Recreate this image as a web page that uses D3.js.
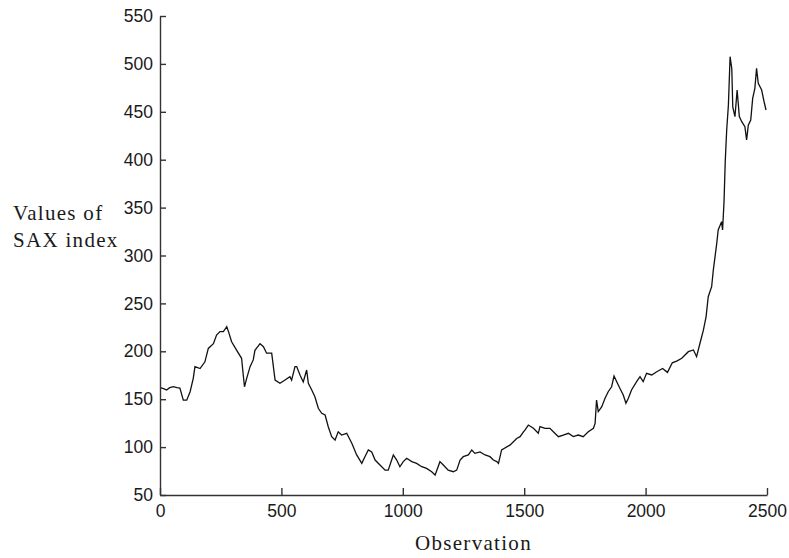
<!DOCTYPE html>
<html>
<head>
<meta charset="utf-8">
<script src="https://cdn.jsdelivr.net/npm/d3@7/dist/d3.min.js"></script>
<style>
  html, body { margin: 0; padding: 0; background: #fff; }
  svg { display: block; }
  .tick text { font-family: "Liberation Sans", Arial, sans-serif; font-size: 17.5px; fill: #1a1a1a; }
  .title { font-family: "Liberation Serif", "Times New Roman", serif; font-size: 21px; fill: #1a1a1a; }
</style>
</head>
<body>
<svg id="chart" width="789" height="558"></svg>
<script>
// SAX index level by observation number
const observations = [0, 15, 27, 40, 55, 70, 82, 96, 110, 124, 137, 144, 165, 185, 199, 220, 233, 247, 261, 275,
  282, 295, 316, 336, 343, 348, 357, 371, 384, 391, 412, 426, 439, 460, 474, 494, 515, 535, 542, 556,
  563, 577, 590, 604, 611, 625, 638, 652, 666, 680, 693, 707, 721, 734, 748, 769, 790, 810, 831, 844,
  858, 872, 886, 906, 927, 940, 961, 975, 988, 1002, 1016, 1037, 1057, 1078, 1098, 1119, 1133, 1153, 1167, 1187,
  1208, 1222, 1236, 1249, 1270, 1284, 1297, 1318, 1339, 1359, 1373, 1387, 1394, 1407, 1441, 1469, 1483, 1497, 1503, 1517,
  1538, 1558, 1565, 1586, 1606, 1620, 1641, 1661, 1682, 1702, 1723, 1743, 1764, 1785, 1792, 1798, 1805, 1819, 1833, 1846,
  1860, 1870, 1881, 1894, 1908, 1919, 1929, 1942, 1963, 1977, 1990, 2004, 2025, 2046, 2070, 2090, 2110, 2130, 2149, 2176,
  2197, 2210, 2224, 2238, 2249, 2258, 2272, 2279, 2286, 2293, 2299, 2313, 2317, 2323, 2328, 2334, 2341, 2348, 2355, 2359,
  2368, 2377, 2386, 2396, 2409, 2416, 2423, 2433, 2441, 2450, 2457, 2464, 2478, 2488, 2496];

const saxValues = [162, 161, 159.6, 162, 163, 162, 161.6, 149, 149, 157.8, 171.8, 184, 182, 189, 203, 208, 217, 220.5, 220.5, 225.7,
  220.5, 210, 201, 192.7, 175, 163, 171.8, 184, 191, 201, 208, 204.8, 198, 198, 170, 166.6, 170, 173.5, 170, 184,
  184, 175, 168, 180.5, 166.6, 159.6, 152.6, 140.5, 135.3, 133.5, 121.3, 110.9, 107.4, 116, 112.6, 114.4, 104, 91.8, 83, 90,
  97, 95, 86.5, 81.3, 76, 76, 91.8, 86.5, 79.5, 84.8, 88.3, 84.8, 83, 79.5, 77.8, 74.3, 70.9, 84.8, 81.3, 76,
  74.3, 76, 86.5, 90, 91.8, 97, 93.5, 95, 91.8, 90, 86.5, 84.8, 83, 97, 102, 109, 110.9, 116, 117.8, 123,
  119.6, 114.4, 121.3, 119.6, 119.6, 116, 110.9, 112.6, 114.4, 110.9, 112.6, 110.9, 116, 119.6, 124.8, 149, 137, 142, 151, 157.8,
  163, 174.2, 168.3, 161.4, 154.4, 145.7, 151, 159.6, 168.3, 173.5, 168.3, 177, 175.3, 178.7, 182, 178, 188, 190, 192.7, 199.6,
  201.4, 194.4, 208.4, 222, 236, 257, 267.4, 285, 298.8, 312.7, 326.6, 335.3, 326.6, 356, 398, 431, 457, 507.5, 495, 455,
  445, 472.7, 445, 439.7, 434.5, 420.6, 436, 441.4, 464, 474.5, 495.3, 479.7, 472.7, 460.5, 451.9];

const xTicks = [0, 500, 1000, 1500, 2000, 2500];
const yTicks = [50, 100, 150, 200, 250, 300, 350, 400, 450, 500, 550];
const yTitleLines = ["Values of", "SAX index"];
const xTitle = "Observation";

const svg = d3.select("#chart");
const plot = { left: 160, right: 767, top: 16, bottom: 495 };

const x = d3.scaleLinear().domain([0, 2500]).range([plot.left, plot.right]);
const y = d3.scaleLinear().domain([50, 550]).range([plot.bottom, plot.top]);

const data = observations.map((o, i) => ({ o, v: saxValues[i] }));

// series line
svg.append("path")
  .datum(data)
  .attr("fill", "none")
  .attr("stroke", "#111")
  .attr("stroke-width", 1.3)
  .attr("stroke-linejoin", "miter")
  .attr("d", d3.line().x(d => x(d.o)).y(d => y(d.v)));

// axes with inward ticks
const xAxis = svg.append("g")
  .attr("transform", `translate(0,${plot.bottom})`)
  .call(d3.axisBottom(x).tickValues(xTicks).tickFormat(d3.format("d"))
    .tickSizeInner(-7).tickSizeOuter(0).tickPadding(10));

const yAxis = svg.append("g")
  .attr("transform", `translate(${plot.left},0)`)
  .call(d3.axisLeft(y).tickValues(yTicks).tickFormat(d3.format("d"))
    .tickSizeInner(-6).tickSizeOuter(0).tickPadding(7));

[xAxis, yAxis].forEach(g => {
  g.select(".domain").attr("stroke", "#333").attr("stroke-width", 1.4);
  g.selectAll(".tick line").attr("stroke", "#333").attr("stroke-width", 1.4);
});

// axis titles
svg.append("g").selectAll("text")
  .data(yTitleLines)
  .join("text")
  .attr("class", "title")
  .attr("x", 13)
  .attr("y", (d, i) => 220 + i * 27)
  .attr("letter-spacing", "1.3px")
  .text(d => d);

svg.append("text")
  .attr("class", "title")
  .attr("x", 415)
  .attr("y", 550)
  .attr("letter-spacing", "1.3px")
  .text(xTitle);
</script>
</body>
</html>
